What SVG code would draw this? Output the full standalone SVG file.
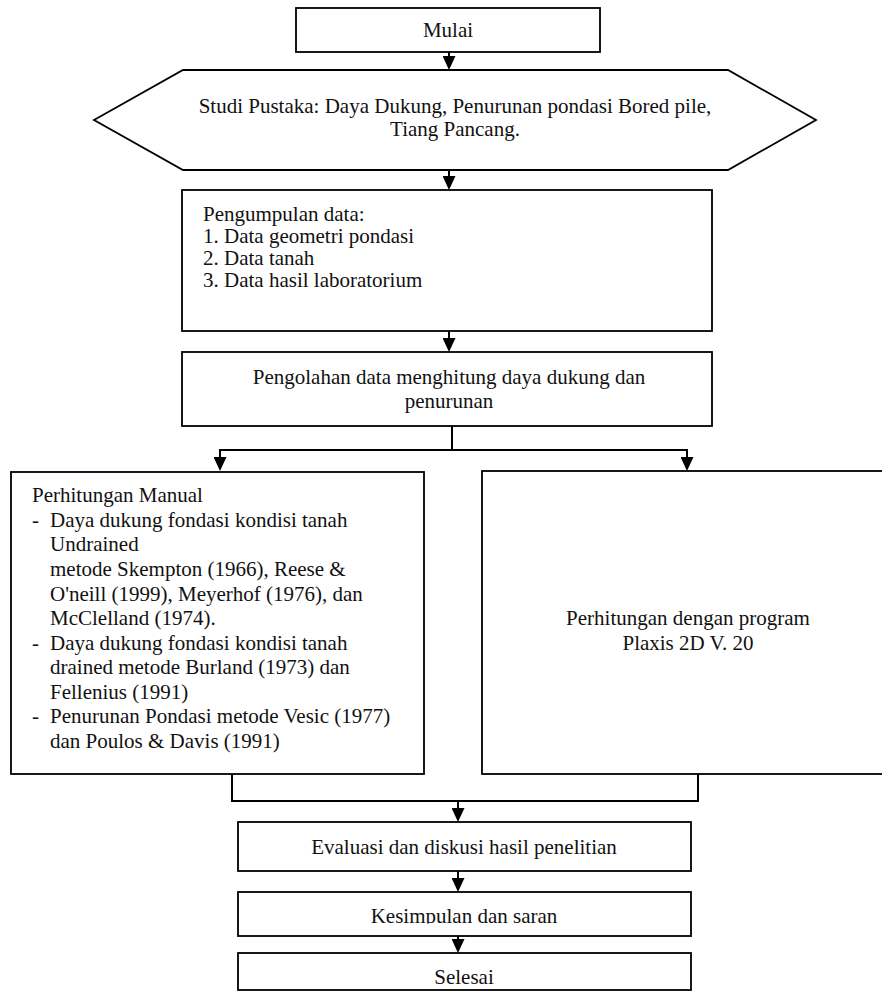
<svg xmlns="http://www.w3.org/2000/svg" width="882" height="992" viewBox="0 0 882 992">
<defs>
<style>
.box{fill:#fff;stroke:#000;stroke-width:1.8}
.t{font-family:"Liberation Serif","Times New Roman",serif;font-size:21px;fill:#111}
.c{text-anchor:middle}
.ln{fill:none;stroke:#000;stroke-width:2}
</style>
<marker id="ah" viewBox="0 0 14 13" refX="6" refY="6.5" markerWidth="14" markerHeight="13" markerUnits="userSpaceOnUse" orient="auto">
<path d="M0,0 L14,6.5 L0,13 Z" fill="#000"/>
</marker>
<clipPath id="kclip"><rect x="238" y="892" width="453" height="31.5"/></clipPath>
</defs>
<rect width="882" height="992" fill="#fff"/>

<g id="connectors">
<path class="ln" d="M449,52 V62" marker-end="url(#ah)"/>
<path class="ln" d="M449,170 V182" marker-end="url(#ah)"/>
<path class="ln" d="M449,331 V344" marker-end="url(#ah)"/>
<path class="ln" d="M452,426 V450"/>
<path class="ln" d="M220,450 H687"/>
<path class="ln" d="M220,449 V463" marker-end="url(#ah)"/>
<path class="ln" d="M687,449 V463" marker-end="url(#ah)"/>
<path class="ln" d="M232,774 V801 H698 V774"/>
<path class="ln" d="M458,800 V814" marker-end="url(#ah)"/>
<path class="ln" d="M458,871 V884" marker-end="url(#ah)"/>
<path class="ln" d="M458,936 V945" marker-end="url(#ah)"/>
</g>

<g id="mulai">
<rect class="box" x="296" y="8" width="304" height="44"/>
<text class="t c" x="448" y="37">Mulai</text>
</g>

<g id="studi-pustaka">
<polygon class="box" points="94,120 183,70 728,70 816,120 728,170 183,170"/>
<text class="t c" x="455" y="113">Studi Pustaka: Daya Dukung, Penurunan pondasi Bored pile,</text>
<text class="t c" x="455" y="136">Tiang Pancang.</text>
</g>

<g id="pengumpulan">
<rect class="box" x="182" y="190" width="530" height="141"/>
<text class="t" x="203" y="221">Pengumpulan data:</text>
<text class="t" x="203" y="243">1. Data geometri pondasi</text>
<text class="t" x="203" y="265">2. Data tanah</text>
<text class="t" x="203" y="287">3. Data hasil laboratorium</text>
</g>

<g id="pengolahan">
<rect class="box" x="182" y="352" width="530" height="74"/>
<text class="t c" x="449" y="384">Pengolahan data menghitung daya dukung dan</text>
<text class="t c" x="449" y="408">penurunan</text>
</g>

<g id="manual">
<rect class="box" x="11" y="472" width="413" height="302"/>
<text class="t" x="32" y="502">Perhitungan Manual</text>
<text class="t" x="32" y="527">-</text>
<text class="t" x="50" y="527">Daya dukung fondasi kondisi tanah</text>
<text class="t" x="50" y="551">Undrained</text>
<text class="t" x="50" y="576">metode Skempton (1966), Reese &amp;</text>
<text class="t" x="50" y="601">O'neill (1999), Meyerhof (1976), dan</text>
<text class="t" x="50" y="625">McClelland (1974).</text>
<text class="t" x="32" y="650">-</text>
<text class="t" x="50" y="650">Daya dukung fondasi kondisi tanah</text>
<text class="t" x="50" y="674">drained metode Burland (1973) dan</text>
<text class="t" x="50" y="699">Fellenius (1991)</text>
<text class="t" x="32" y="723">-</text>
<text class="t" x="50" y="723">Penurunan Pondasi metode Vesic (1977)</text>
<text class="t" x="50" y="748">dan Poulos &amp; Davis (1991)</text>
</g>

<g id="plaxis">
<rect class="box" x="482" y="471" width="402" height="303"/>
<text class="t c" x="688" y="625">Perhitungan dengan program</text>
<text class="t c" x="688" y="650">Plaxis 2D V. 20</text>
</g>

<g id="evaluasi">
<rect class="box" x="238" y="822" width="453" height="49"/>
<text class="t c" x="464" y="854">Evaluasi dan diskusi hasil penelitian</text>
</g>

<g id="kesimpulan">
<rect class="box" x="238" y="892" width="453" height="44"/>
<text class="t c" x="464" y="923" clip-path="url(#kclip)">Kesimpulan dan saran</text>
</g>

<g id="selesai">
<rect class="box" x="238" y="953" width="453" height="37"/>
<text class="t c" x="464" y="984">Selesai</text>
</g>
</svg>
